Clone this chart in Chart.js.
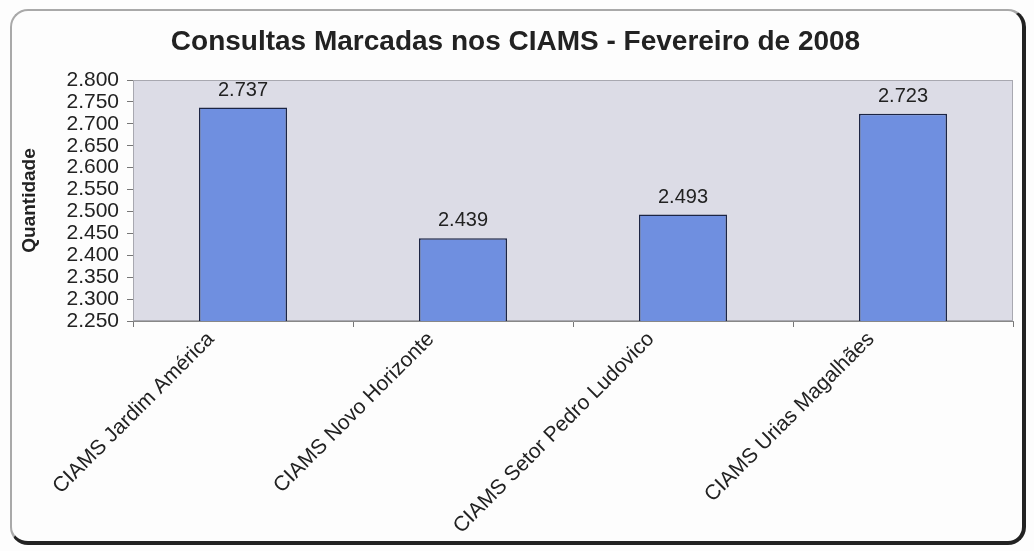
<!DOCTYPE html>
<html>
<head>
<meta charset="utf-8">
<script src="https://cdn.jsdelivr.net/npm/chart.js@4"></script>
<style>
  html, body { margin: 0; padding: 0; background: #fdfdfd; }
  #wrap { position: relative; width: 1034px; height: 551px; }
  #frame {
    position: absolute; left: 10px; top: 9px; width: 1016px; height: 536px;
    border: 2px solid #a9a9a9; border-right: 4px solid #222; border-bottom: 4px solid #222;
    border-radius: 18px; pointer-events: none; box-sizing: border-box;
  }
</style>
</head>
<body>
<div id="wrap">
  <canvas id="chart" width="1034" height="551"></canvas>
  <div id="frame"></div>
</div>
<script>
/* =========================
   DATA
========================= */
const categories = [
  "CIAMS Jardim América",
  "CIAMS Novo Horizonte",
  "CIAMS Setor Pedro Ludovico",
  "CIAMS Urias Magalhães"
];
const consultas = [2737, 2439, 2493, 2723];
const yMin = 2250;
const yMax = 2800;
const yStep = 50;

const FONT = "'Liberation Sans', Arial, sans-serif";

// 2737 -> "2.737"
function fmt(v) {
  return v.toLocaleString("pt-BR");
}

/* =========================
   PLUGINS
========================= */
const plotBackground = {
  id: "plotBackground",
  beforeDatasetsDraw(chart) {
    const { ctx, chartArea: a } = chart;
    ctx.save();
    ctx.fillStyle = "#dcdce6";
    ctx.fillRect(a.left, a.top, a.right - a.left, a.bottom - a.top);
    ctx.strokeStyle = "#a8a8b0";
    ctx.lineWidth = 1;
    ctx.strokeRect(a.left + 0.5, a.top + 0.5, a.right - a.left - 1, a.bottom - a.top - 1);
    ctx.restore();
  }
};

const valueLabels = {
  id: "valueLabels",
  afterDatasetsDraw(chart) {
    const { ctx } = chart;
    const meta = chart.getDatasetMeta(0);
    ctx.save();
    ctx.font = "20px " + FONT;
    ctx.fillStyle = "#222";
    ctx.textAlign = "center";
    ctx.textBaseline = "alphabetic";
    meta.data.forEach((bar, i) => {
      ctx.fillText(fmt(consultas[i]), bar.x, bar.y - 12);
    });
    ctx.restore();
  }
};

/* =========================
   CHART
========================= */
new Chart(document.getElementById("chart"), {
  type: "bar",
  data: {
    labels: categories,
    datasets: [{
      data: consultas,
      backgroundColor: "#6f8fe0",
      borderColor: "#1c2544",
      borderWidth: 1.5,
      categoryPercentage: 1,
      barPercentage: 0.4
    }]
  },
  options: {
    responsive: false,
    animation: false,
    layout: { padding: { top: 0, right: 21, bottom: 0, left: 18 } },
    plugins: {
      legend: { display: false },
      tooltip: { enabled: false },
      title: {
        display: true,
        text: "Consultas Marcadas nos CIAMS - Fevereiro de 2008",
        color: "#222",
        font: { family: FONT, size: 28, weight: "bold", lineHeight: 1.2 },
        padding: { top: 25, bottom: 21.4 }
      }
    },
    scales: {
      x: {
        offset: true,
        grid: { display: true, drawOnChartArea: false, offset: true, color: "#777", tickLength: 6 },
        border: { display: true, color: "#888" },
        ticks: {
          color: "#222",
          minRotation: 45,
          maxRotation: 45,
          autoSkip: false,
          padding: 0,
          labelOffset: -32,
          font: { family: FONT, size: 21 }
        },
        afterFit(scale) { scale.height = 230; }
      },
      y: {
        min: yMin,
        max: yMax,
        grid: { display: true, drawOnChartArea: false, color: "#777", tickLength: 6 },
        border: { display: true, color: "#888" },
        ticks: {
          stepSize: yStep,
          autoSkip: false,
          color: "#222",
          padding: 8,
          font: { family: FONT, size: 21 },
          callback: v => fmt(v)
        },
        title: {
          display: true,
          text: "Quantidade",
          color: "#222",
          padding: { top: 0, bottom: 14 },
          font: { family: FONT, size: 19, weight: "bold" }
        },
        afterFit(scale) { scale.width = 115; }
      }
    }
  },
  plugins: [plotBackground, valueLabels]
});
</script>
</body>
</html>
